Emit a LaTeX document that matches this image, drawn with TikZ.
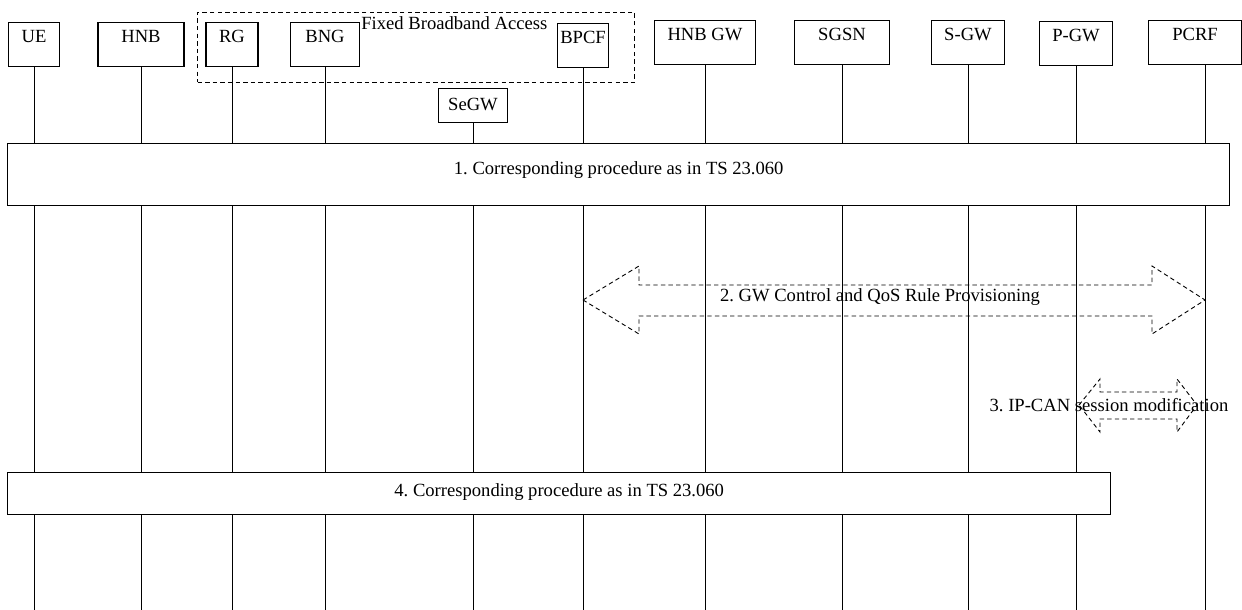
\documentclass[tikz,border=0pt]{standalone}
\usepackage{fontspec}
\setmainfont{Liberation Serif}
\usepackage{tikz}
\usetikzlibrary{calc}
\frenchspacing

\begin{document}
\begin{tikzpicture}[
  x=0.5pt, y=-0.5pt,
  font=\fontsize{9.3}{11}\selectfont,
  ent/.style={draw, fill=white, line width=0.6pt, anchor=north,
              inner xsep=0pt, inner ysep=3.6pt,
              text height=6.5pt, text depth=8.3pt},
  grp/.style={draw, dash pattern=on 2.2pt off 1.6pt, line width=0.5pt,
              anchor=north west, inner sep=0pt},
  life/.style={draw, line width=0.5pt},
  proc/.style={draw, fill=white, line width=0.7pt, anchor=north west,
               inner sep=0pt},
  blk/.style={draw, dash pattern=on 2.2pt off 1.6pt, line width=0.45pt},
  lbl/.style={inner sep=0pt}]

\useasboundingbox (0,0) rectangle (1242,610);

% ---------- fixed broadband access group ----------
\node[grp, minimum width=218.5pt, minimum height=35pt] (fba) at (197,12) {};
\node[lbl, anchor=base west] (fbat) at (361,30) {Fixed Broadband Access};

% ---------- entities ----------
\node[ent, minimum width=25.5pt] (ue) at (34,22) {UE};
\node[ent, minimum width=43pt] (hnb) at (141,22) {HNB};
\node[ent, minimum width=26pt] (rg) at (232,22) {RG};
\node[ent, minimum width=34.5pt] (bng) at (325,22) {BNG};
\node[ent, minimum width=25.5pt] (bpcf) at (583,23) {BPCF};
\node[ent, minimum width=34.5pt, inner ysep=4.5pt, text depth=1.5pt] (segw) at (473,88) {SeGW};
\node[ent, minimum width=50.5pt] (hnbgw) at (705,20) {HNB GW};
\node[ent, minimum width=47.5pt] (sgsn) at (842,20) {SGSN};
\node[ent, minimum width=36.5pt] (sgw) at (968,20) {S-GW};
\node[ent, minimum width=36.5pt] (pgw) at (1076,21) {P-GW};
\node[ent, minimum width=46.5pt] (pcrf) at (1195,20) {PCRF};
\coordinate (pcrfl) at ([xshift=5pt]pcrf.south);
\coordinate (bot) at (0,610);

% ---------- lifelines ----------
\draw[life] (ue) -- (ue |- bot);
\draw[life] (hnb) -- (hnb |- bot);
\draw[life] (rg) -- (rg |- bot);
\draw[life] (bng) -- (bng |- bot);
\draw[life] (segw) -- (segw |- bot);
\draw[life] (bpcf) -- (bpcf |- bot);
\draw[life] (hnbgw) -- (hnbgw |- bot);
\draw[life] (sgsn) -- (sgsn |- bot);
\draw[life] (sgw) -- (sgw |- bot);
\draw[life] (pgw) -- (pgw |- bot);
\draw[life] (pcrfl) -- (pcrfl |- bot);

% ---------- procedure boxes ----------
\node[proc, minimum width=611pt, minimum height=31pt, text depth=6.5pt] (proc1) at (7,143)
  {1. Corresponding procedure as in TS 23.060};
\node[proc, minimum width=551.5pt, minimum height=21pt, text depth=3.5pt] (proc4) at (7,472)
  {4. Corresponding procedure as in TS 23.060};

% ---------- step 2: BPCF <-> PCRF ----------
\coordinate (m2l) at (bpcf |- 0,300);
\coordinate (m2r) at (pcrfl |- 0,300);
\draw[blk] (m2l) -- ++(56,-34) -- ++(0,19) -- ($(m2r)+(-53,-15)$) -- ++(0,-19)
  -- (m2r) -- ++(-53,34) -- ++(0,-18) -- ($(m2l)+(56,16)$) -- ++(0,18) -- cycle;
\node[lbl] (t2) at ($(m2l)!0.5!(m2r)+(-14,-3)$) {2. GW Control and QoS Rule Provisioning};

% ---------- step 3: P-GW <-> PCRF ----------
\coordinate (m3l) at ($(pgw |- 0,405)+(3,0)$);
\coordinate (m3r) at ($(pcrfl |- 0,405)+(-8,0)$);
\draw[blk] (m3l) -- ++(21,-26) -- ++(0,13) -- ($(m3r)+(-20,-13)$) -- ++(0,-13)
  -- (m3r) -- ++(-20,27) -- ++(0,-13) -- ($(m3l)+(21,14)$) -- ++(0,13) -- cycle;
\node[lbl] (t3) at ($(m3l)!0.5!(m3r)+(-29,0)$) {3. IP-CAN session modification};
\end{tikzpicture}
\end{document}
